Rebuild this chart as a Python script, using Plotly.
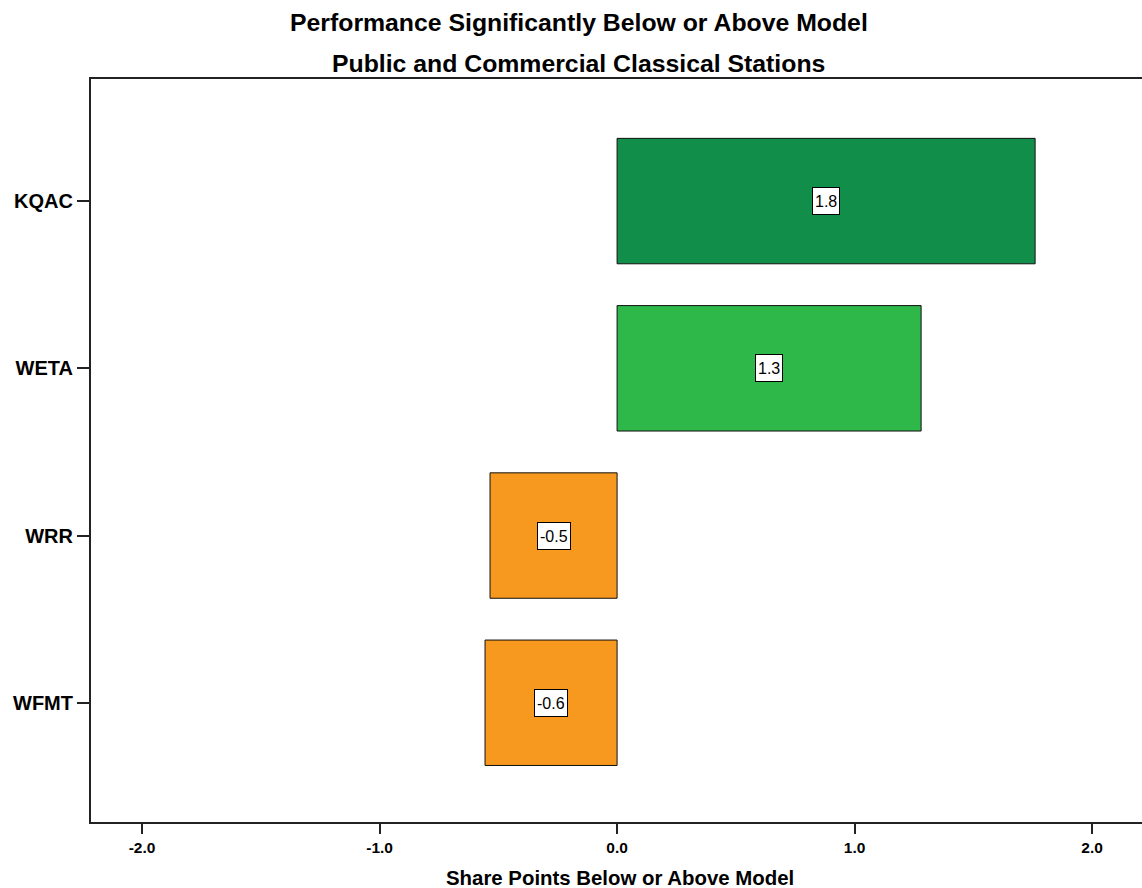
import plotly.graph_objects as go

stations = ["KQAC", "WETA", "WRR", "WFMT"]
values = [1.76, 1.28, -0.535, -0.556]
colors = ["#108e4a", "#2fb84a", "#f7991f", "#f7991f"]
x_ticks = [-2.0, -1.0, 0.0, 1.0, 2.0]
x_ticklabels = ["-2.0", "-1.0", "0.0", "1.0", "2.0"]

FONT = "Liberation Sans, Arial, sans-serif"

fig = go.Figure()
fig.add_trace(go.Bar(
    x=values, y=stations, orientation="h",
    marker=dict(color=colors, line=dict(color="#111111", width=1)),
    width=0.75, hoverinfo="x+y", showlegend=False,
))

for s, v in zip(stations, values):
    fig.add_annotation(
        x=v / 2, y=s, xref="x", yref="y",
        text=f"{v:.1f}", showarrow=False,
        font=dict(family=FONT, size=16, color="black"),
        bgcolor="white", bordercolor="black", borderwidth=1, borderpad=2,
        height=22,
    )

fig.add_annotation(text="<b>Performance Significantly Below or Above Model</b>",
                   xref="paper", yref="paper", x=0.4643, y=1.0, yshift=57,
                   xanchor="center", yanchor="middle", showarrow=False,
                   font=dict(family=FONT, size=24.8, color="black"))
fig.add_annotation(text="<b>Public and Commercial Classical Stations</b>",
                   xref="paper", yref="paper", x=0.4643, y=1.0, yshift=16,
                   xanchor="center", yanchor="middle", showarrow=False,
                   font=dict(family=FONT, size=24.8, color="black"))
fig.add_annotation(text="<b>Share Points Below or Above Model</b>",
                   xref="paper", yref="paper", x=0.503, y=0.0, yshift=-56,
                   xanchor="center", yanchor="middle", showarrow=False,
                   font=dict(family=FONT, size=20.4, color="black"))

fig.update_layout(
    width=1142, height=888,
    margin=dict(l=91, r=0, t=79, b=66),
    plot_bgcolor="white", paper_bgcolor="white",
    font=dict(family=FONT, color="black"),
    bargap=0.25,
)
fig.update_xaxes(
    range=[-2.215, 2.21], tickvals=x_ticks, ticktext=x_ticklabels,
    ticks="outside", ticklen=10, tickwidth=1.5, tickcolor="#222222",
    showline=True, linecolor="#222222", linewidth=2, mirror=True,
    showgrid=False, zeroline=False,
    tickfont=dict(family=FONT, size=15.5, color="black", weight="bold"),
)
fig.update_yaxes(
    categoryorder="array", categoryarray=stations,
    range=[3.713, -0.73],
    ticks="outside", ticklen=12, tickwidth=1.5, tickcolor="#222222",
    showline=True, linecolor="#222222", linewidth=2, mirror=False,
    showgrid=False, zeroline=False,
    tickfont=dict(family=FONT, size=20, color="black", weight="bold"),
)

fig.write_html("out.html", config={"displayModeBar": False},
               post_script="document.body.style.margin='0';document.body.style.overflow='hidden';")
